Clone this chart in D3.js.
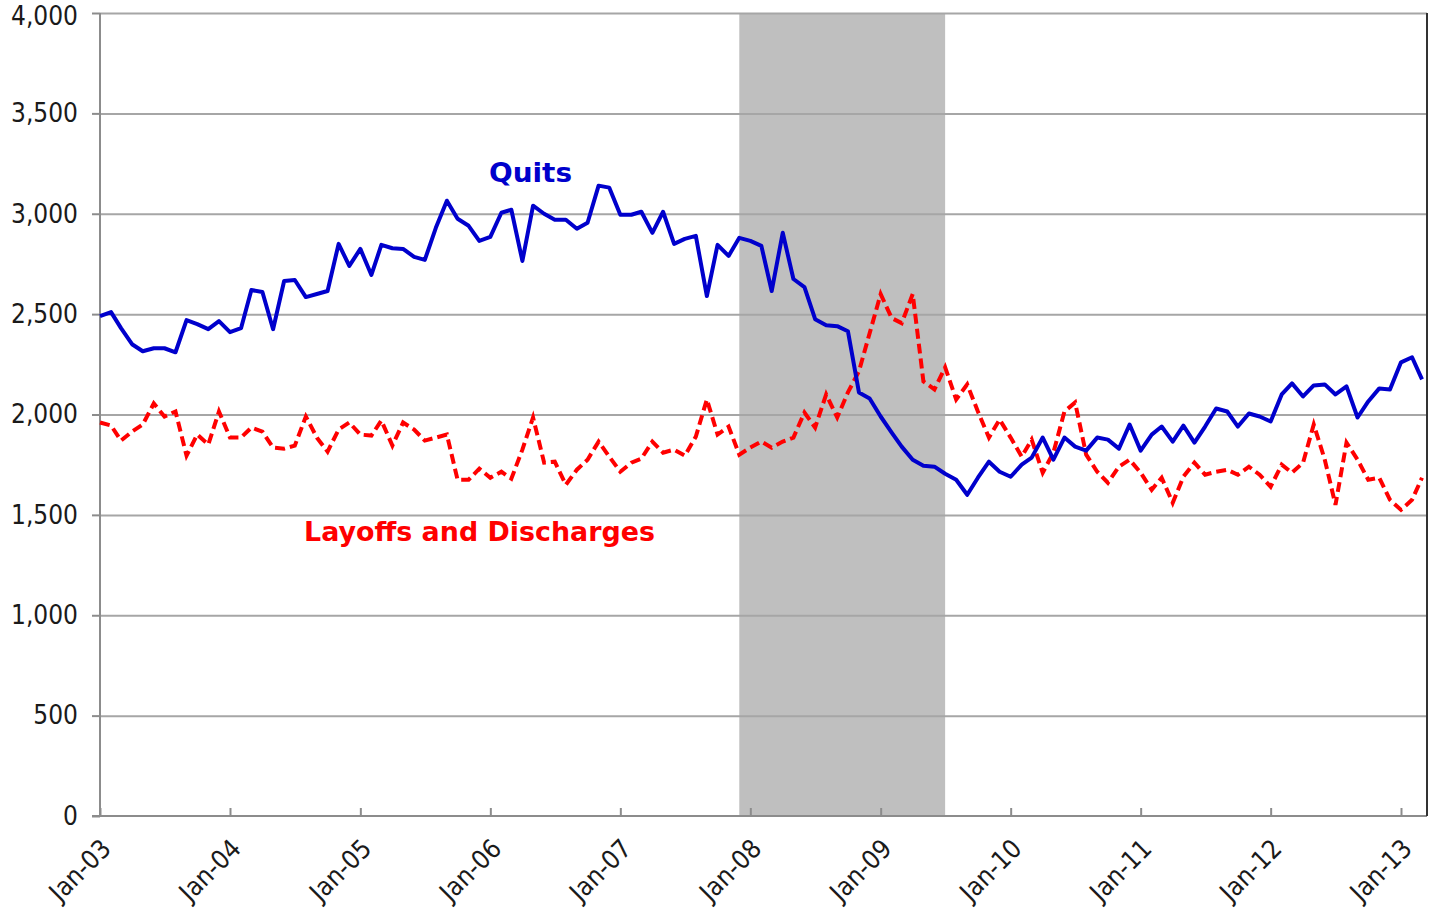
<!DOCTYPE html>
<html>
<head>
<meta charset="utf-8">
<script src="https://cdn.jsdelivr.net/npm/d3@7"></script>
<style>
  body { margin: 0; background: #fff; }
  .axis text { font-family: "DejaVu Sans Condensed", "DejaVu Sans", sans-serif; font-size: 26px; fill: #1a1a1a; }
  .axis path, .axis line { stroke: #8c8c8c; stroke-width: 2px; }
  .grid line { stroke: #a6a6a6; stroke-width: 2px; }
  .grid path { display: none; }
  .series-label { font-family: "DejaVu Sans", sans-serif; font-weight: bold; }
</style>
</head>
<body>
<div id="chart"></div>
<script>
// Monthly data, Jan 2003 - Mar 2013 (thousands)
const firstMonth = new Date(2003, 0, 1);

const quits = [
  2490, 2510, 2430, 2350, 2315, 2330, 2330, 2310, 2470, 2450, 2425, 2465,
  2410, 2430, 2620, 2610, 2425, 2665, 2670, 2585, 2600, 2615, 2850, 2740,
  2825, 2695, 2845, 2828, 2825, 2785, 2770, 2930, 3065, 2975, 2940, 2865,
  2885, 3005, 3020, 2765, 3040, 3000, 2970, 2970, 2925, 2955, 3140, 3130,
  2995, 2995, 3010, 2905, 3010, 2850, 2875, 2890, 2590, 2845, 2790, 2880,
  2865, 2840, 2615, 2905, 2675, 2635, 2475, 2445, 2440, 2415, 2110, 2080,
  1990, 1910, 1840, 1775, 1745, 1740, 1705, 1675, 1600, 1685, 1765, 1715,
  1690, 1750, 1785, 1885, 1775, 1885, 1840, 1820, 1885, 1875, 1830, 1950,
  1820, 1900, 1940, 1865, 1945, 1860, 1940, 2030, 2015, 1940, 2005, 1990,
  1965, 2100, 2155, 2090, 2145, 2150, 2100, 2140, 1985, 2065, 2130, 2125,
  2260, 2285, 2175
];

const layoffs = [
  1960, 1945, 1870, 1915, 1950, 2055, 1990, 2015, 1795, 1900, 1850, 2015,
  1885, 1885, 1935, 1915, 1835, 1830, 1845, 1990, 1885, 1815, 1925, 1960,
  1900, 1895, 1970, 1845, 1960, 1925, 1870, 1885, 1900, 1675, 1675, 1730,
  1685, 1715, 1680, 1825, 1985, 1760, 1765, 1650, 1725, 1775, 1865, 1790,
  1715, 1760, 1780, 1865, 1810, 1825, 1795, 1890, 2075, 1900, 1940, 1800,
  1835, 1865, 1835, 1865, 1885, 2010, 1935, 2100, 1985, 2110, 2215, 2405,
  2600, 2480, 2455, 2600, 2165, 2125, 2235, 2075, 2150, 2015, 1885, 1975,
  1885, 1790, 1875, 1710, 1810, 2015, 2060, 1800, 1715, 1660, 1740, 1775,
  1710, 1625, 1685, 1560, 1690, 1760, 1700, 1715, 1725, 1700, 1740, 1700,
  1640, 1750, 1710, 1760, 1950, 1775, 1550, 1860, 1775, 1675, 1685, 1575,
  1525, 1575, 1685
];

const yTicks = [0, 500, 1000, 1500, 2000, 2500, 3000, 3500, 4000];
const tickLabels = ['Jan-03', 'Jan-04', 'Jan-05', 'Jan-06', 'Jan-07', 'Jan-08',
  'Jan-09', 'Jan-10', 'Jan-11', 'Jan-12', 'Jan-13'];
const recession = [new Date(2007, 11, 1), new Date(2009, 6, 1)];

const chart = {
    totalWidth: 1429,
    totalHeight: 912,
    margin: { top: 13, bottom: 96, left: 100, right: 2 }
};
chart.width = chart.totalWidth - (chart.margin.left + chart.margin.right);
chart.height = chart.totalHeight - (chart.margin.top + chart.margin.bottom);

const months = d3.timeMonth.range(firstMonth, d3.timeMonth.offset(firstMonth, quits.length));

const svg = d3.select('#chart')
    .append('svg')
    .attr('width', chart.totalWidth)
    .attr('height', chart.totalHeight);

const g = svg.append('g')
    .attr('transform', `translate(${chart.margin.left}, ${chart.margin.top})`);

// Scales
const xScale = d3.scaleTime()
    .domain([firstMonth, new Date(2013, 2, 15)])
    .range([0, chart.width]);

const yScale = d3.scaleLinear()
    .domain([0, 4000])
    .range([chart.height, 0]);

// Recession shading
g.append('rect')
    .attr('x', xScale(recession[0]))
    .attr('y', 0)
    .attr('width', xScale(recession[1]) - xScale(recession[0]))
    .attr('height', chart.height)
    .attr('fill', '#bfbfbf');

// Gridlines
g.append('g')
    .classed('grid', true)
    .call(d3.axisLeft(yScale).tickValues(yTicks.slice(1)).tickSize(-chart.width).tickFormat(''));

// Y-axis
const yAxis = g.append('g')
    .classed('axis', true)
    .call(d3.axisLeft(yScale)
        .tickValues(yTicks)
        .tickSize(8)
        .tickPadding(14)
        .tickFormat(d3.format(',')));

yAxis.select('.domain').attr('d', `M0,0V${chart.height}`);
// keep the top label inside the picture
yAxis.selectAll('.tick text')
    .filter(d => d === 4000)
    .attr('y', 3);

// X-axis
const xAxis = g.append('g')
    .classed('axis', true)
    .attr('transform', `translate(0, ${chart.height})`)
    .call(d3.axisBottom(xScale)
        .tickValues(months.filter(d => d.getMonth() === 0))
        .tickSizeInner(-8)
        .tickSizeOuter(0)
        .tickFormat((d, i) => tickLabels[i]));

xAxis.select('.domain').attr('d', `M-8,0H${chart.width}`);
xAxis.selectAll('text')
    .attr('text-anchor', 'end')
    .attr('dy', null)
    .attr('transform', 'translate(10, 32) rotate(-45)');

// Right border
g.append('line')
    .attr('x1', chart.width).attr('x2', chart.width)
    .attr('y1', 0).attr('y2', chart.height)
    .attr('stroke', '#333')
    .attr('stroke-width', 2);

// Lines
const line = values => d3.line()
    .x((d, i) => xScale(months[i]))
    .y(d => yScale(d))(values);

g.append('path')
    .attr('d', line(layoffs))
    .attr('fill', 'none')
    .attr('stroke', '#ff0000')
    .attr('stroke-width', 4)
    .attr('stroke-dasharray', '10,5');

g.append('path')
    .attr('d', line(quits))
    .attr('fill', 'none')
    .attr('stroke', '#0000cc')
    .attr('stroke-width', 4)
    .attr('stroke-linejoin', 'round');

// Series labels
svg.append('text')
    .classed('series-label', true)
    .attr('x', 489).attr('y', 182)
    .attr('font-size', 26)
    .attr('fill', '#0000cc')
    .attr('textLength', 83)
    .attr('lengthAdjust', 'spacingAndGlyphs')
    .text('Quits');

svg.append('text')
    .classed('series-label', true)
    .attr('x', 304).attr('y', 541)
    .attr('font-size', 26)
    .attr('fill', '#ff0000')
    .attr('textLength', 351)
    .attr('lengthAdjust', 'spacingAndGlyphs')
    .text('Layoffs and Discharges');
</script>
</body>
</html>
